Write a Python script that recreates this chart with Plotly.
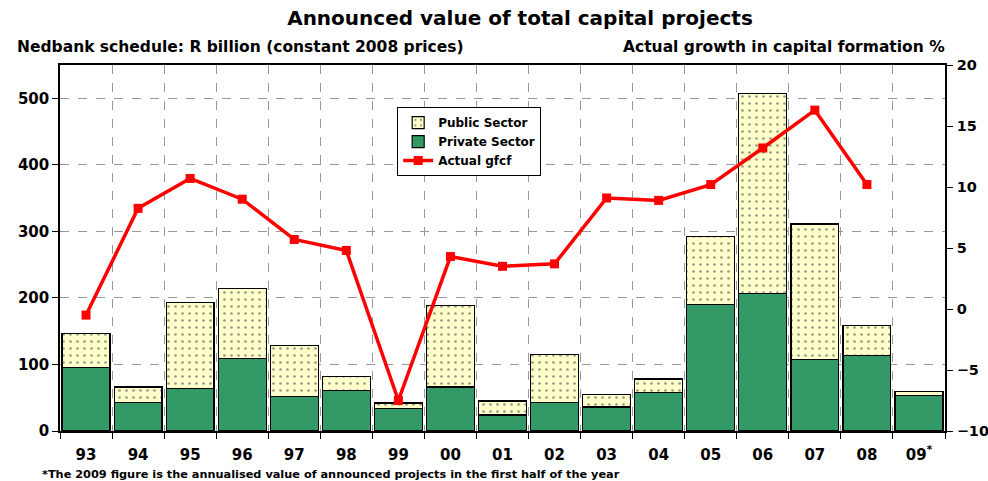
import plotly.graph_objects as go

categories = ["93", "94", "95", "96", "97", "98", "99", "00", "01", "02", "03", "04", "05", "06", "07", "08", "09<sup>*</sup>"]
private_sector = [96, 43, 64, 109, 52, 61, 34, 66, 24, 43, 36, 58, 190, 207, 108, 113, 53]
total_projects = [147, 66, 193, 214, 128, 82, 42, 188, 45, 115, 55, 78, 292, 507, 311, 159, 59]
public_sector = [t - p for t, p in zip(total_projects, private_sector)]
actual_gfcf = [-0.5, 8.25, 10.7, 9.0, 5.7, 4.8, -7.5, 4.3, 3.5, 3.7, 9.1, 8.9, 10.2, 13.2, 16.3, 10.2, None]

left_ticks = [0, 100, 200, 300, 400, 500]
right_ticks = [-10, -5, 0, 5, 10, 15, 20]

FONT = "DejaVu Sans"
BOLD = dict(family=FONT, weight="bold", color="black")

fig = go.Figure()
fig.add_trace(go.Bar(
    x=categories, y=private_sector, name="Private Sector",
    marker=dict(color="#339966", line=dict(color="black", width=1.2)),
    legendrank=2,
))
fig.add_trace(go.Bar(
    x=categories, y=public_sector, name="Public Sector",
    marker=dict(color="#FFFFCC", line=dict(color="black", width=1.2),
                pattern=dict(shape=".", fgcolor="#333333", bgcolor="#FFFFCC", size=7, solidity=0.12)),
    legendrank=1,
))
fig.add_trace(go.Scatter(
    x=categories, y=actual_gfcf, name="Actual gfcf", yaxis="y2",
    mode="lines+markers",
    line=dict(color="#FF0000", width=3.5),
    marker=dict(symbol="square", size=9, color="#FF0000"),
    legendrank=3,
))

fig.update_layout(
    width=988, height=481,
    margin=dict(l=60, r=43, t=65, b=50, autoexpand=False),
    paper_bgcolor="white", plot_bgcolor="white",
    barmode="stack", bargap=0.08,
    font=dict(family=FONT, color="black"),
    showlegend=True,
    legend=dict(x=0.381, y=0.885, xanchor="left", yanchor="top",
                traceorder="normal",
                bordercolor="black", borderwidth=1, bgcolor="white",
                font=dict(size=12, **BOLD), tracegroupgap=0,
                itemwidth=30),
    title=dict(text="Announced value of total capital projects",
               x=520 / 988, xanchor="center", y=1 - 18 / 481, yanchor="middle",
               font=dict(size=20, **BOLD)),
    xaxis=dict(
        type="category", range=[-0.5, 16.5], tickson="boundaries", ticks="outside", ticklen=6,
        showgrid=True, gridcolor="#999999", griddash="dash", gridwidth=1,
        showline=True, linecolor="black", linewidth=1.5, mirror=True,
        tickfont=dict(size=15, **BOLD), tickcolor="black", automargin=False,
        ticklabelstandoff=9,
    ),
    yaxis=dict(
        range=[0, 550], tickvals=left_ticks, ticks="outside", ticklen=6,
        showgrid=True, gridcolor="#999999", griddash="dash", gridwidth=1,
        showline=True, linecolor="black", linewidth=1.5,
        tickfont=dict(size=15, **BOLD), tickcolor="black", zeroline=False,
        automargin=False,
    ),
    yaxis2=dict(
        range=[-10, 20], tickvals=right_ticks, overlaying="y", side="right",
        ticks="outside", ticklen=6, showgrid=False, zeroline=False,
        showline=True, linecolor="black", linewidth=1.5,
        tickfont=dict(size=14.5, **BOLD), tickcolor="black", automargin=False,
        ticklabelstandoff=1,
    ),
    annotations=[
        dict(text="Nedbank schedule: R billion (constant 2008 prices)",
             xref="paper", yref="paper", x=(15 - 60) / 885, y=(431 - 47) / 366,
             xanchor="left", yanchor="middle", showarrow=False,
             font=dict(size=15.5, **BOLD)),
        dict(text="Actual growth in capital formation %",
             xref="paper", yref="paper", x=(947 - 60) / 885, y=(431 - 47) / 366,
             xanchor="right", yanchor="middle", showarrow=False,
             font=dict(size=15.5, **BOLD)),
        dict(text="*The 2009 figure is the annualised value of announced projects in the first half of the year",
             xref="paper", yref="paper", x=(40 - 60) / 885, y=(431 - 475) / 366,
             xanchor="left", yanchor="middle", showarrow=False,
             font=dict(size=11.3, **BOLD)),
    ],
)

html = fig.to_html(full_html=True, include_plotlyjs=True, config={"displayModeBar": False})
html = html.replace("<body>", '<body style="margin:0;padding:0;overflow:hidden;">', 1)
with open("out.html", "w", encoding="utf-8") as f:
    f.write(html)
